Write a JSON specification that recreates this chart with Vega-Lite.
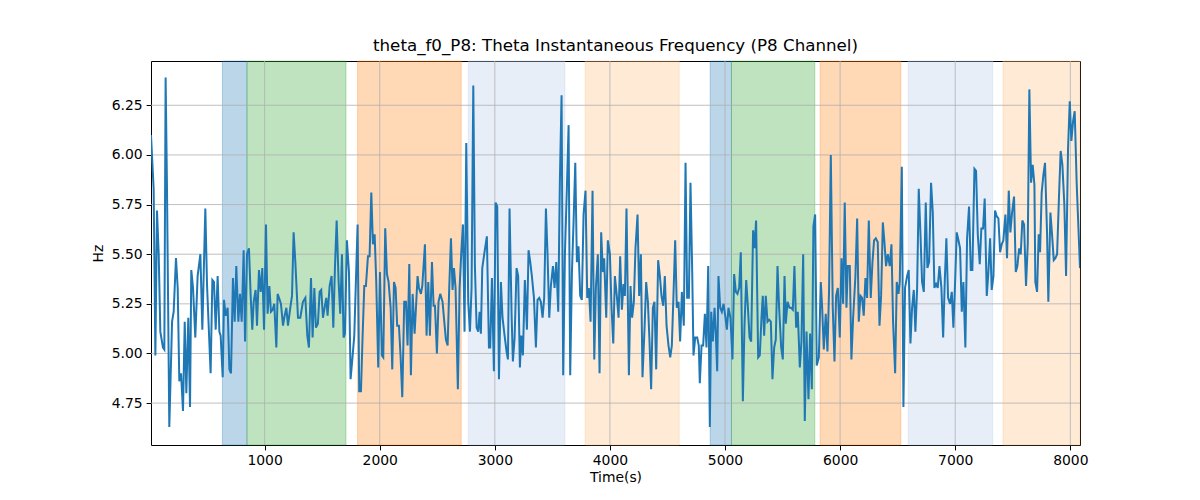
{
"$schema": "https://vega.github.io/schema/vega-lite/v6.json",
"width": 929, "height": 384,
"autosize": "none",
"padding": {"left": 151, "top": 61, "right": 120, "bottom": 55},
"background": "white",
"title": {"text": "theta_f0_P8: Theta Instantaneous Frequency (P8 Channel)", "font": "DejaVu Sans", "fontSize": 16.7, "fontWeight": "normal", "color": "black", "anchor": "middle", "offset": 6},
"config": {
  "view": {"stroke": "black", "strokeWidth": 1},
  "axis": {"labelFont": "DejaVu Sans", "labelFontSize": 13.9, "labelColor": "black", "titleFont": "DejaVu Sans", "titleFontSize": 13.9, "titleFontWeight": "normal", "titleColor": "black", "tickColor": "black", "tickSize": 4.9, "tickWidth": 1, "labelPadding": 4, "domain": false, "grid": false}
},
"datasets": {
  "bands": [
    {"start": 633, "end": 847, "kind": "blue"},
    {"start": 847, "end": 1707, "kind": "green"},
    {"start": 1808, "end": 2708, "kind": "orange"},
    {"start": 2769, "end": 3609, "kind": "lightblue"},
    {"start": 3785, "end": 4602, "kind": "lightorange"},
    {"start": 4871, "end": 5056, "kind": "blue"},
    {"start": 5056, "end": 5780, "kind": "green"},
    {"start": 5826, "end": 6527, "kind": "orange"},
    {"start": 6591, "end": 7326, "kind": "lightblue"},
    {"start": 7415, "end": 8084, "kind": "lightorange"}
  ],
  "xgrid": [{"x": 1000}, {"x": 2000}, {"x": 3000}, {"x": 4000}, {"x": 5000}, {"x": 6000}, {"x": 7000}, {"x": 8000}],
  "ygrid": [{"y": 4.75}, {"y": 5.0}, {"y": 5.25}, {"y": 5.5}, {"y": 5.75}, {"y": 6.0}, {"y": 6.25}],
  "series": [
{"t":13,"hz":6.10},{"t":36,"hz":5.83},{"t":51,"hz":4.99},{"t":65,"hz":5.72},{"t":80,"hz":5.50},{"t":94,"hz":5.11},{"t":117,"hz":5.03},{"t":129,"hz":5.02},{"t":140,"hz":6.39},{"t":152,"hz":5.83},{"t":172,"hz":4.63},{"t":196,"hz":5.16},{"t":210,"hz":5.21},{"t":230,"hz":5.48},{"t":245,"hz":5.33},{"t":259,"hz":4.86},{"t":274,"hz":4.90},{"t":291,"hz":4.71},{"t":306,"hz":5.16},{"t":320,"hz":4.80},{"t":337,"hz":5.18},{"t":352,"hz":4.73},{"t":363,"hz":5.42},{"t":378,"hz":5.33},{"t":398,"hz":5.08},{"t":418,"hz":5.39},{"t":442,"hz":5.50},{"t":459,"hz":5.12},{"t":485,"hz":5.73},{"t":500,"hz":5.34},{"t":531,"hz":4.90},{"t":546,"hz":5.37},{"t":560,"hz":5.36},{"t":575,"hz":5.12},{"t":592,"hz":5.39},{"t":607,"hz":5.11},{"t":618,"hz":5.09},{"t":636,"hz":4.88},{"t":647,"hz":5.27},{"t":662,"hz":5.19},{"t":679,"hz":5.23},{"t":694,"hz":4.92},{"t":708,"hz":4.90},{"t":725,"hz":5.38},{"t":740,"hz":5.16},{"t":754,"hz":5.44},{"t":772,"hz":5.16},{"t":786,"hz":5.30},{"t":801,"hz":5.16},{"t":818,"hz":5.52},{"t":830,"hz":5.06},{"t":847,"hz":5.50},{"t":864,"hz":5.53},{"t":879,"hz":5.29},{"t":893,"hz":5.12},{"t":905,"hz":5.26},{"t":922,"hz":5.32},{"t":934,"hz":5.14},{"t":951,"hz":5.42},{"t":966,"hz":5.31},{"t":980,"hz":5.43},{"t":995,"hz":5.12},{"t":1012,"hz":5.65},{"t":1026,"hz":5.20},{"t":1041,"hz":5.34},{"t":1055,"hz":5.21},{"t":1070,"hz":5.22},{"t":1084,"hz":5.25},{"t":1102,"hz":5.03},{"t":1113,"hz":5.30},{"t":1131,"hz":5.27},{"t":1142,"hz":5.25},{"t":1160,"hz":5.14},{"t":1174,"hz":5.19},{"t":1189,"hz":5.23},{"t":1203,"hz":5.14},{"t":1223,"hz":5.23},{"t":1238,"hz":5.29},{"t":1252,"hz":5.61},{"t":1267,"hz":5.46},{"t":1290,"hz":5.18},{"t":1310,"hz":5.18},{"t":1333,"hz":5.26},{"t":1354,"hz":5.28},{"t":1371,"hz":5.09},{"t":1385,"hz":5.03},
{"t":1403,"hz":5.38},{"t":1417,"hz":5.08},{"t":1432,"hz":5.33},{"t":1446,"hz":5.13},{"t":1463,"hz":5.15},{"t":1478,"hz":5.31},{"t":1492,"hz":5.32},{"t":1507,"hz":5.18},{"t":1521,"hz":5.23},{"t":1536,"hz":5.28},{"t":1547,"hz":5.19},{"t":1565,"hz":5.34},{"t":1582,"hz":5.39},{"t":1597,"hz":5.13},{"t":1611,"hz":5.43},{"t":1626,"hz":5.67},{"t":1643,"hz":5.36},{"t":1657,"hz":5.20},{"t":1672,"hz":5.50},{"t":1686,"hz":5.08},{"t":1698,"hz":5.10},{"t":1715,"hz":5.57},{"t":1733,"hz":5.41},{"t":1747,"hz":4.87},{"t":1765,"hz":4.99},{"t":1779,"hz":5.09},{"t":1808,"hz":5.65},{"t":1822,"hz":4.81},{"t":1837,"hz":4.81},{"t":1851,"hz":5.08},{"t":1866,"hz":5.34},{"t":1880,"hz":5.34},{"t":1898,"hz":5.49},{"t":1912,"hz":5.49},{"t":1927,"hz":5.81},{"t":1941,"hz":5.55},{"t":1956,"hz":5.60},{"t":1970,"hz":5.36},{"t":1987,"hz":4.93},{"t":2002,"hz":5.41},{"t":2019,"hz":4.99},{"t":2031,"hz":4.98},{"t":2048,"hz":5.63},{"t":2063,"hz":5.40},{"t":2077,"hz":5.36},{"t":2095,"hz":5.23},{"t":2109,"hz":4.92},{"t":2124,"hz":5.36},{"t":2138,"hz":5.33},{"t":2152,"hz":5.14},{"t":2167,"hz":5.14},{"t":2181,"hz":4.99},{"t":2196,"hz":4.78},{"t":2213,"hz":5.26},{"t":2228,"hz":5.26},{"t":2242,"hz":5.04},{"t":2257,"hz":5.45},{"t":2271,"hz":4.89},{"t":2286,"hz":5.30},{"t":2303,"hz":5.10},{"t":2315,"hz":5.23},{"t":2329,"hz":5.39},{"t":2341,"hz":5.33},{"t":2358,"hz":5.30},{"t":2370,"hz":5.34},{"t":2393,"hz":5.55},{"t":2407,"hz":5.09},{"t":2422,"hz":5.36},{"t":2436,"hz":5.09},{"t":2454,"hz":5.46},{"t":2468,"hz":5.24},{"t":2480,"hz":5.24},{"t":2497,"hz":5.00},{"t":2511,"hz":5.26},{"t":2526,"hz":5.30},{"t":2546,"hz":5.26},{"t":2561,"hz":5.16},{"t":2575,"hz":5.07},{"t":2590,"hz":5.04},{"t":2604,"hz":5.33},{"t":2619,"hz":5.58},{"t":2633,"hz":5.32},{"t":2645,"hz":5.43},{"t":2659,"hz":5.33},{"t":2679,"hz":4.82},{"t":2694,"hz":5.33},{"t":2708,"hz":5.50},{"t":2723,"hz":5.65},{"t":2737,"hz":5.11},{"t":2752,"hz":6.06},
{"t":2769,"hz":5.26},{"t":2784,"hz":5.11},{"t":2798,"hz":5.33},{"t":2813,"hz":6.35},{"t":2827,"hz":5.44},{"t":2842,"hz":5.13},{"t":2856,"hz":5.11},{"t":2868,"hz":5.21},{"t":2879,"hz":5.10},{"t":2891,"hz":5.43},{"t":2908,"hz":5.50},{"t":2931,"hz":5.59},{"t":2949,"hz":5.03},{"t":2960,"hz":5.03},{"t":2975,"hz":5.38},{"t":2992,"hz":4.91},{"t":3007,"hz":5.76},{"t":3021,"hz":5.74},{"t":3036,"hz":4.87},{"t":3053,"hz":5.36},{"t":3067,"hz":5.18},{"t":3085,"hz":5.09},{"t":3102,"hz":5.01},{"t":3114,"hz":4.97},{"t":3128,"hz":5.73},{"t":3146,"hz":5.19},{"t":3157,"hz":4.96},{"t":3172,"hz":5.08},{"t":3189,"hz":5.43},{"t":3203,"hz":5.39},{"t":3218,"hz":4.93},{"t":3230,"hz":5.09},{"t":3244,"hz":4.99},{"t":3261,"hz":5.37},{"t":3279,"hz":5.12},{"t":3293,"hz":5.52},{"t":3308,"hz":5.46},{"t":3322,"hz":5.39},{"t":3340,"hz":5.28},{"t":3357,"hz":5.03},{"t":3371,"hz":5.27},{"t":3386,"hz":5.28},{"t":3400,"hz":5.26},{"t":3415,"hz":5.18},{"t":3429,"hz":5.28},{"t":3444,"hz":5.73},{"t":3458,"hz":5.50},{"t":3473,"hz":5.18},{"t":3487,"hz":5.34},{"t":3505,"hz":5.44},{"t":3519,"hz":5.33},{"t":3534,"hz":5.46},{"t":3551,"hz":5.21},{"t":3565,"hz":5.86},{"t":3580,"hz":6.30},{"t":3594,"hz":4.89},{"t":3609,"hz":5.50},{"t":3626,"hz":5.83},{"t":3641,"hz":6.15},{"t":3655,"hz":4.89},{"t":3670,"hz":5.41},{"t":3684,"hz":5.66},{"t":3699,"hz":5.96},{"t":3713,"hz":5.46},{"t":3727,"hz":5.54},{"t":3742,"hz":5.29},{"t":3756,"hz":5.27},{"t":3771,"hz":5.70},{"t":3788,"hz":5.82},{"t":3803,"hz":5.28},{"t":3817,"hz":5.33},{"t":3832,"hz":5.16},{"t":3849,"hz":5.82},{"t":3864,"hz":4.97},{"t":3878,"hz":5.33},{"t":3895,"hz":5.50},{"t":3910,"hz":4.90},{"t":3924,"hz":5.61},{"t":3939,"hz":5.41},{"t":3950,"hz":5.48},{"t":3968,"hz":5.18},{"t":3982,"hz":5.57},{"t":4000,"hz":5.50},{"t":4014,"hz":5.23},{"t":4029,"hz":5.05},{"t":4043,"hz":5.39},{"t":4060,"hz":5.29},{"t":4075,"hz":5.18},{"t":4089,"hz":5.49},{"t":4104,"hz":5.22},{"t":4118,"hz":5.35},{"t":4130,"hz":5.29},{"t":4144,"hz":5.73},
{"t":4165,"hz":4.89},{"t":4179,"hz":5.34},{"t":4193,"hz":5.18},{"t":4208,"hz":5.26},{"t":4222,"hz":5.53},{"t":4240,"hz":5.70},{"t":4254,"hz":5.29},{"t":4269,"hz":5.50},{"t":4283,"hz":4.88},{"t":4301,"hz":5.13},{"t":4315,"hz":5.36},{"t":4330,"hz":5.26},{"t":4344,"hz":5.06},{"t":4358,"hz":4.82},{"t":4373,"hz":5.23},{"t":4387,"hz":5.26},{"t":4402,"hz":4.92},{"t":4419,"hz":5.47},{"t":4434,"hz":5.39},{"t":4448,"hz":5.29},{"t":4463,"hz":5.24},{"t":4477,"hz":5.39},{"t":4492,"hz":5.14},{"t":4509,"hz":5.04},{"t":4524,"hz":4.98},{"t":4538,"hz":5.04},{"t":4552,"hz":5.29},{"t":4567,"hz":5.57},{"t":4581,"hz":5.23},{"t":4596,"hz":5.26},{"t":4610,"hz":5.06},{"t":4625,"hz":5.31},{"t":4642,"hz":5.14},{"t":4657,"hz":5.96},{"t":4671,"hz":5.28},{"t":4686,"hz":5.28},{"t":4700,"hz":5.86},{"t":4715,"hz":5.41},{"t":4726,"hz":4.99},{"t":4741,"hz":5.08},{"t":4758,"hz":5.08},{"t":4772,"hz":5.04},{"t":4781,"hz":4.85},{"t":4796,"hz":5.04},{"t":4810,"hz":5.04},{"t":4825,"hz":5.20},{"t":4839,"hz":5.03},{"t":4854,"hz":5.44},{"t":4868,"hz":4.63},{"t":4880,"hz":5.21},{"t":4894,"hz":5.06},{"t":4909,"hz":5.23},{"t":4920,"hz":5.10},{"t":4932,"hz":4.91},{"t":4943,"hz":5.39},{"t":4958,"hz":5.23},{"t":4972,"hz":5.21},{"t":4987,"hz":5.25},{"t":5004,"hz":5.18},{"t":5016,"hz":5.12},{"t":5030,"hz":5.23},{"t":5047,"hz":5.18},{"t":5065,"hz":4.97},{"t":5079,"hz":5.40},{"t":5094,"hz":5.31},{"t":5108,"hz":5.30},{"t":5123,"hz":5.33},{"t":5137,"hz":5.51},{"t":5155,"hz":4.76},{"t":5169,"hz":5.14},{"t":5184,"hz":5.37},{"t":5198,"hz":5.24},{"t":5213,"hz":5.08},{"t":5227,"hz":5.06},{"t":5244,"hz":5.62},{"t":5256,"hz":5.53},{"t":5270,"hz":5.67},{"t":5288,"hz":4.98},{"t":5302,"hz":4.99},{"t":5317,"hz":5.18},{"t":5328,"hz":5.29},{"t":5340,"hz":5.09},{"t":5354,"hz":5.29},{"t":5369,"hz":5.16},{"t":5383,"hz":5.17},{"t":5398,"hz":5.16},{"t":5412,"hz":4.87},{"t":5427,"hz":5.03},{"t":5441,"hz":5.07},{"t":5456,"hz":5.44},{"t":5470,"hz":5.23},{"t":5488,"hz":5.03},{"t":5502,"hz":4.97},{"t":5517,"hz":5.39},{"t":5528,"hz":5.15},{"t":5543,"hz":5.26},{"t":5560,"hz":5.23},
{"t":5574,"hz":5.23},{"t":5589,"hz":5.22},{"t":5603,"hz":5.44},{"t":5618,"hz":5.13},{"t":5632,"hz":5.21},{"t":5650,"hz":4.93},{"t":5664,"hz":5.06},{"t":5679,"hz":5.50},{"t":5693,"hz":4.66},{"t":5708,"hz":5.11},{"t":5725,"hz":4.77},{"t":5739,"hz":5.10},{"t":5754,"hz":4.82},{"t":5768,"hz":5.64},{"t":5783,"hz":5.70},{"t":5797,"hz":4.94},{"t":5815,"hz":4.98},{"t":5832,"hz":5.36},{"t":5844,"hz":5.23},{"t":5858,"hz":5.02},{"t":5875,"hz":5.20},{"t":5890,"hz":5.01},{"t":5904,"hz":5.32},{"t":5919,"hz":6.00},{"t":5936,"hz":5.23},{"t":5951,"hz":4.96},{"t":5965,"hz":5.29},{"t":5980,"hz":5.33},{"t":5997,"hz":5.08},{"t":6012,"hz":5.48},{"t":6026,"hz":5.25},{"t":6040,"hz":5.76},{"t":6055,"hz":5.23},{"t":6067,"hz":5.44},{"t":6084,"hz":5.44},{"t":6098,"hz":4.97},{"t":6113,"hz":5.18},{"t":6133,"hz":5.39},{"t":6148,"hz":5.68},{"t":6162,"hz":5.16},{"t":6177,"hz":5.29},{"t":6191,"hz":5.28},{"t":6205,"hz":5.19},{"t":6220,"hz":5.38},{"t":6234,"hz":5.28},{"t":6249,"hz":5.67},{"t":6266,"hz":5.28},{"t":6281,"hz":5.46},{"t":6295,"hz":5.57},{"t":6310,"hz":5.58},{"t":6327,"hz":5.56},{"t":6342,"hz":5.14},{"t":6356,"hz":5.29},{"t":6371,"hz":5.66},{"t":6385,"hz":5.56},{"t":6399,"hz":5.44},{"t":6414,"hz":5.50},{"t":6431,"hz":5.44},{"t":6446,"hz":5.55},{"t":6460,"hz":5.16},{"t":6478,"hz":4.90},{"t":6492,"hz":5.36},{"t":6507,"hz":5.30},{"t":6518,"hz":5.36},{"t":6536,"hz":5.94},{"t":6550,"hz":4.73},{"t":6564,"hz":5.33},{"t":6582,"hz":5.39},{"t":6596,"hz":5.42},{"t":6611,"hz":5.05},{"t":6625,"hz":5.23},{"t":6640,"hz":5.32},{"t":6654,"hz":5.11},{"t":6669,"hz":5.33},{"t":6683,"hz":5.83},{"t":6698,"hz":5.60},{"t":6712,"hz":5.36},{"t":6727,"hz":5.31},{"t":6744,"hz":5.76},{"t":6758,"hz":5.43},{"t":6773,"hz":5.46},{"t":6790,"hz":5.86},{"t":6805,"hz":5.71},{"t":6819,"hz":5.33},{"t":6834,"hz":5.35},{"t":6848,"hz":5.33},{"t":6863,"hz":5.44},{"t":6880,"hz":5.33},{"t":6895,"hz":5.08},{"t":6909,"hz":5.36},{"t":6923,"hz":5.58},{"t":6938,"hz":5.28},
{"t":6955,"hz":5.25},{"t":6970,"hz":5.31},{"t":6984,"hz":5.13},{"t":6999,"hz":5.36},{"t":7013,"hz":5.61},{"t":7028,"hz":5.57},{"t":7042,"hz":5.53},{"t":7057,"hz":5.21},{"t":7071,"hz":5.36},{"t":7088,"hz":5.03},{"t":7103,"hz":5.58},{"t":7120,"hz":5.74},{"t":7135,"hz":5.42},{"t":7149,"hz":5.42},{"t":7167,"hz":5.93},{"t":7181,"hz":5.92},{"t":7196,"hz":5.60},{"t":7213,"hz":5.45},{"t":7227,"hz":5.63},{"t":7242,"hz":5.63},{"t":7256,"hz":5.78},{"t":7274,"hz":5.29},{"t":7288,"hz":5.41},{"t":7303,"hz":5.58},{"t":7317,"hz":5.32},{"t":7332,"hz":5.39},{"t":7346,"hz":5.72},{"t":7361,"hz":5.69},{"t":7375,"hz":5.68},{"t":7390,"hz":5.51},{"t":7404,"hz":5.55},{"t":7418,"hz":5.57},{"t":7436,"hz":5.70},{"t":7450,"hz":5.48},{"t":7465,"hz":5.82},{"t":7479,"hz":5.61},{"t":7494,"hz":5.71},{"t":7511,"hz":5.79},{"t":7526,"hz":5.41},{"t":7540,"hz":5.44},{"t":7555,"hz":5.53},{"t":7569,"hz":5.50},{"t":7583,"hz":5.67},{"t":7598,"hz":5.65},{"t":7615,"hz":5.34},{"t":7630,"hz":5.55},{"t":7644,"hz":6.33},{"t":7659,"hz":5.86},{"t":7673,"hz":5.95},{"t":7688,"hz":5.85},{"t":7696,"hz":5.36},{"t":7711,"hz":5.31},{"t":7725,"hz":5.60},{"t":7737,"hz":5.51},{"t":7751,"hz":5.81},{"t":7766,"hz":5.90},{"t":7780,"hz":5.96},{"t":7798,"hz":5.60},{"t":7809,"hz":5.26},{"t":7827,"hz":5.71},{"t":7841,"hz":5.60},{"t":7856,"hz":5.47},{"t":7870,"hz":5.48},{"t":7885,"hz":5.50},{"t":7902,"hz":5.80},{"t":7916,"hz":6.02},{"t":7931,"hz":5.95},{"t":7948,"hz":5.75},{"t":7963,"hz":5.39},{"t":7980,"hz":6.03},{"t":7995,"hz":6.27},{"t":8009,"hz":6.07},{"t":8024,"hz":6.17},{"t":8038,"hz":6.22},{"t":8055,"hz":5.86},{"t":8084,"hz":5.43}
  ]
},
"layer": [
  {
    "data": {"name": "bands"},
    "mark": {"type": "rect", "fillOpacity": 0.3, "strokeOpacity": 0.3, "strokeWidth": 1},
    "encoding": {
      "x": {"field": "start", "type": "quantitative", "scale": {"domain": [13, 8084], "nice": false, "zero": false}, "axis": {"title": "Time(s)", "values": [1000, 2000, 3000, 4000, 5000, 6000, 7000, 8000], "format": "d", "titlePadding": 3}},
      "x2": {"field": "end"},
      "color": {"field": "kind", "type": "nominal", "scale": {"domain": ["blue", "green", "orange", "lightblue", "lightorange"], "range": ["#1f77b4", "#2ca02c", "#ff7f0e", "#aec7e8", "#ffbb78"]}, "legend": null},
      "stroke": {"field": "kind", "type": "nominal", "scale": {"domain": ["blue", "green", "orange", "lightblue", "lightorange"], "range": ["#1f77b4", "#2ca02c", "#ff7f0e", "#aec7e8", "#ffbb78"]}, "legend": null}
    }
  },
  {
    "data": {"name": "xgrid"},
    "mark": {"type": "rule", "color": "#b0b0b0", "strokeWidth": 0.8},
    "encoding": {"x": {"field": "x", "type": "quantitative"}}
  },
  {
    "data": {"name": "ygrid"},
    "mark": {"type": "rule", "color": "#b0b0b0", "strokeWidth": 0.8},
    "encoding": {"y": {"field": "y", "type": "quantitative", "scale": {"domain": [4.539, 6.473], "nice": false, "zero": false}}}
  },
  {
    "data": {"name": "series"},
    "mark": {"type": "line", "color": "#1f77b4", "strokeWidth": 2, "clip": true},
    "encoding": {
      "x": {"field": "t", "type": "quantitative"},
      "y": {"field": "hz", "type": "quantitative", "scale": {"domain": [4.539, 6.473], "nice": false, "zero": false}, "axis": {"title": "Hz", "values": [4.75, 5.0, 5.25, 5.5, 5.75, 6.0, 6.25], "format": ".2f", "titlePadding": 6}}
    }
  }
]
}
